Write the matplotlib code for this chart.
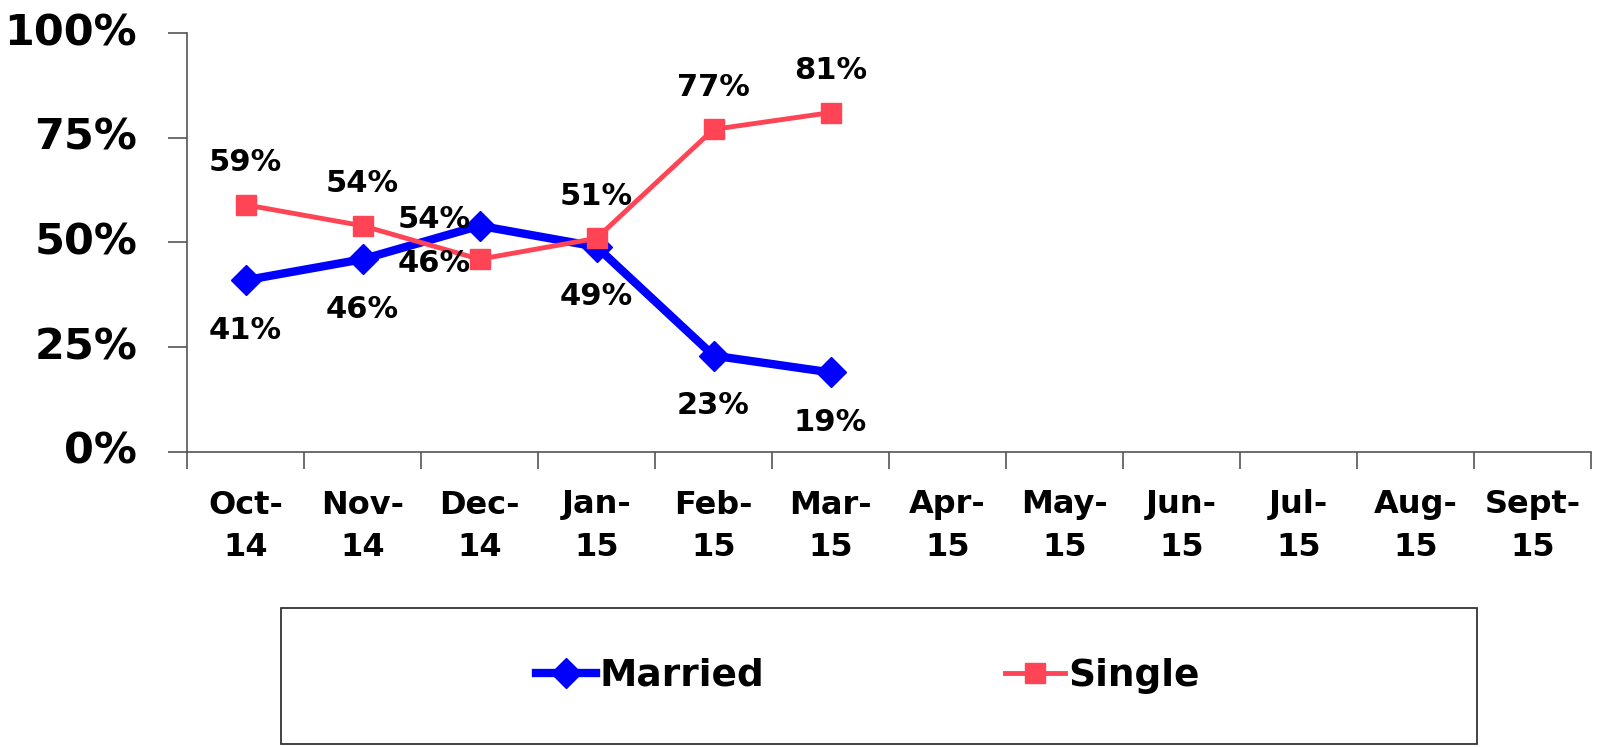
import matplotlib
matplotlib.use("Agg")
import matplotlib.pyplot as plt
from matplotlib.patches import Rectangle

months = ["Oct-\n14", "Nov-\n14", "Dec-\n14", "Jan-\n15", "Feb-\n15", "Mar-\n15",
          "Apr-\n15", "May-\n15", "Jun-\n15", "Jul-\n15", "Aug-\n15", "Sept-\n15"]
married = [41, 46, 54, 49, 23, 19]
single = [59, 54, 46, 51, 77, 81]
yticks = [0, 25, 50, 75, 100]

# label offsets (pixels) per point
married_off = [(0, -50), (0, -50), (-45, 6), (0, -50), (0, -50), (0, -50)]
single_off = [(0, 42), (0, 42), (-45, -4), (0, 42), (0, 42), (0, 42)]

plt.rcParams['font.family'] = ['DejaVu Sans']
plt.rcParams['font.weight'] = 'bold'

W, H = 1603, 747
fig = plt.figure(figsize=(W / 100, H / 100), dpi=100)
ax = fig.add_axes([187 / W, 1 - 452 / H, (1591 - 187) / W, (452 - 33) / H])

x = list(range(len(months)))
mx = x[:len(married)]
ax.plot(mx, married, color='#0000FF', lw=6, marker='D', ms=15, label='Married', zorder=3)
ax.plot(mx, single, color='#FF4455', lw=3.5, marker='s', ms=14, label='Single', zorder=4)

for i, v in enumerate(married):
    ax.annotate(f"{v}%", (mx[i], v), xytext=married_off[i], textcoords='offset pixels',
                ha='center', va='center', fontsize=22, fontweight='bold', zorder=5)
for i, v in enumerate(single):
    ax.annotate(f"{v}%", (mx[i], v), xytext=single_off[i], textcoords='offset pixels',
                ha='center', va='center', fontsize=22, fontweight='bold', zorder=5)

ax.set_xlim(-0.5, len(months) - 0.5)
ax.set_ylim(0, 100)
ax.set_yticks(yticks)
ax.set_yticklabels([f"{t}%" for t in yticks], fontsize=31, fontweight='bold')
ax.set_xticks([i - 0.5 for i in range(len(months) + 1)], minor=False)
ax.set_xticklabels([])
ax.set_xticks(x, minor=True)
ax.set_xticklabels(months, minor=True, fontsize=23, fontweight='bold', linespacing=1.5)
ax.tick_params(axis='x', which='major', length=12, color='#555555', width=1.2)
ax.tick_params(axis='x', which='minor', length=0, pad=27)
ax.tick_params(axis='y', length=14, color='#555555', width=1.2, pad=22)
for lab in ax.get_yticklabels():
    lab.set_verticalalignment('center')
for s in ['top', 'right']:
    ax.spines[s].set_visible(False)
for s in ['left', 'bottom']:
    ax.spines[s].set_color('#555555')
    ax.spines[s].set_linewidth(1.2)

fig.patches.append(Rectangle((281 / W, 1 - 744 / H), (1477 - 281) / W, (744 - 608) / H,
                             transform=fig.transFigure, fill=False, edgecolor='#222222', lw=1.2))
handles, labels = ax.get_legend_handles_labels()
fig.legend(handles, labels, loc='center', bbox_to_anchor=(868 / W, 1 - 676 / H), ncol=2,
           frameon=False, prop={'weight': 'bold', 'size': 27},
           handlelength=1.6, handletextpad=0.1, columnspacing=6.4)

fig.savefig("out.png", dpi=100)
